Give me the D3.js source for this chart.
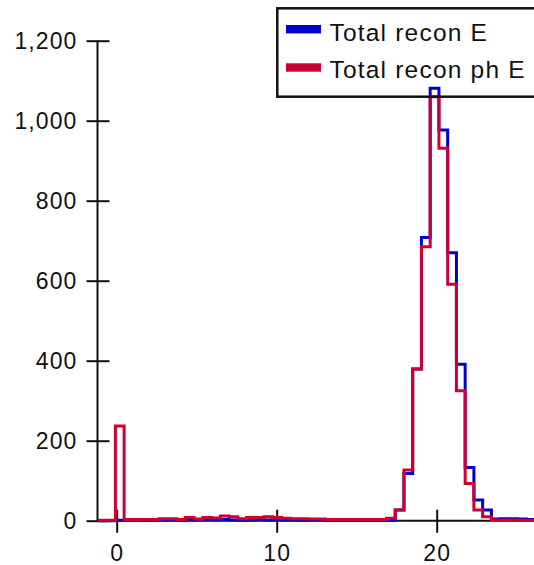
<!DOCTYPE html>
<html>
<head>
<meta charset="utf-8">
<script src="https://cdn.jsdelivr.net/npm/d3@7"></script>
<style>
  html, body { margin: 0; padding: 0; background: #fff; }
  svg { display: block; font-family: "Liberation Sans", Arial, Helvetica, sans-serif; }
</style>
</head>
<body>
<svg id="chart" width="534" height="565"></svg>
<script>
// ---- data ----
const binStart = -1.174;      // left edge of the first bin
const binWidth = 0.5465;      // bin width
const seriesNames = ["Total recon E", "Total recon ph E"];
const seriesColors = ["#0000cc", "#cc0033"];
const totalReconE = [
  0, 0, 1,
  2, 2, 1, 2, 2, 2, 1, 3, 2, 3, 2, 3, 2, 1, 2, 3, 2, 3, 2, 2, 1, 2, 2, 1, 1, 1, 1, 1, 1, 1, 1,
  27, 118, 379, 708, 1081, 977, 670, 391, 133, 52, 27, 4, 5, 5, 4, 3
];
const totalReconPhE = [
  1, 1, 237,
  3, 3, 3, 3, 5, 5, 3, 8, 4, 8, 7, 12, 10, 5, 8, 8, 10, 8, 6, 5, 5, 4, 4, 3, 3, 3, 3, 3, 3, 3, 6,
  27, 127, 379, 685, 1060, 931, 591, 325, 93, 27, 10, 2, 2, 2, 1, 1
];
const xTicks = [0, 10, 20];
const yTicks = [0, 200, 400, 600, 800, 1000, 1200];

// ---- layout ----
const svg = d3.select("#chart");
const x = d3.scaleLinear().domain([0, 20]).range([116.7, 436.7]);
const y = d3.scaleLinear().domain([0, 1200]).range([520.7, 40.7]);
const axisX0 = 97.5;

function stepPoints(vals) {
  const pts = vals.map((v, i) => [binStart + i * binWidth, v]);
  pts.push([binStart + vals.length * binWidth, vals[vals.length - 1]]);
  return pts;
}
const line = d3.line().x(d => x(d[0])).y(d => y(d[1])).curve(d3.curveStepAfter);

// x axis
const gx = svg.append("g").attr("transform", `translate(0,${y(0)})`);
gx.append("line").attr("x1", axisX0).attr("x2", 534).attr("y1", 0).attr("y2", 0)
  .attr("stroke", "#111").attr("stroke-width", 2);
const xa = d3.axisBottom(x).tickValues(xTicks).tickSize(12).tickFormat(d3.format("d"));
const gxa = svg.append("g").attr("transform", `translate(0,${y(0)})`).call(xa);
gxa.select(".domain").remove();
gxa.selectAll(".tick line").attr("y1", -11).attr("y2", 12).attr("stroke", "#111").attr("stroke-width", 2);
gxa.selectAll(".tick text").attr("y", 40).attr("dy", null).attr("fill", "#111")
  .style("font-size", "23px").style("letter-spacing", "1.1px").style("font-family", "'Liberation Sans', Arial, sans-serif");

// y axis
const ya = d3.axisLeft(y).tickValues(yTicks).tickSize(11).tickFormat(d3.format(","));
const gya = svg.append("g").attr("transform", `translate(${axisX0},0)`).call(ya);
gya.select(".domain").attr("d", `M0,${y(1200)}V${y(0)}`).attr("stroke", "#111").attr("stroke-width", 2);
gya.selectAll(".tick line").attr("x1", -11).attr("x2", 12).attr("stroke", "#111").attr("stroke-width", 2);
gya.selectAll(".tick text").attr("x", -20).attr("dy", "0.35em").attr("fill", "#111")
  .style("font-size", "23px").style("letter-spacing", "1.1px").style("font-family", "'Liberation Sans', Arial, sans-serif");

// histograms
[totalReconE, totalReconPhE].forEach((vals, i) => {
  svg.append("path")
    .attr("d", line(stepPoints(vals)))
    .attr("fill", "none")
    .attr("stroke", seriesColors[i])
    .attr("stroke-width", 3)
    .attr("stroke-linejoin", "miter");
});

// legend
const lg = svg.append("g");
lg.append("rect").attr("x", 277.3).attr("y", 8.3).attr("width", 300).attr("height", 88.4)
  .attr("fill", "none").attr("stroke", "#111").attr("stroke-width", 2.5);
seriesNames.forEach((name, i) => {
  const cy = 29.2 + i * 38.3;
  lg.append("rect").attr("x", 286).attr("y", cy - 4.2).attr("width", 35).attr("height", 8.4)
    .attr("fill", seriesColors[i]);
  lg.append("text").attr("x", 329.5).attr("y", 41 + i * 36.7).text(name)
    .attr("fill", "#111").style("font-size", "24.5px").style("letter-spacing", "1.2px");
});
</script>
</body>
</html>
